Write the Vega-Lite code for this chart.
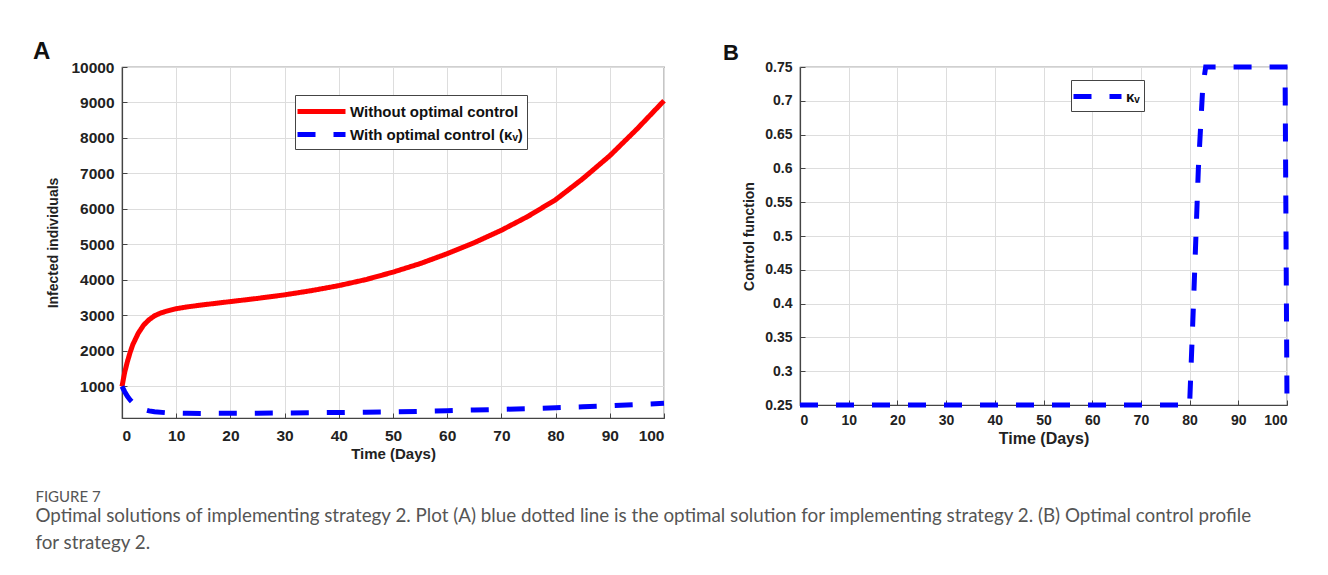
{
  "$schema": "https://vega.github.io/schema/vega-lite/v6.json",
  "background": "white",
  "padding": {"left": 32, "top": 39, "right": 10, "bottom": 5},
  "datasets": {
    "infected": [
      {"t": 0, "value": 1000, "series": "Without optimal control"},
      {"t": 0.5, "value": 1400, "series": "Without optimal control"},
      {"t": 1, "value": 1700, "series": "Without optimal control"},
      {"t": 1.5, "value": 1960, "series": "Without optimal control"},
      {"t": 2, "value": 2180, "series": "Without optimal control"},
      {"t": 3, "value": 2500, "series": "Without optimal control"},
      {"t": 4, "value": 2730, "series": "Without optimal control"},
      {"t": 5, "value": 2880, "series": "Without optimal control"},
      {"t": 6, "value": 2990, "series": "Without optimal control"},
      {"t": 7, "value": 3060, "series": "Without optimal control"},
      {"t": 8, "value": 3110, "series": "Without optimal control"},
      {"t": 10, "value": 3190, "series": "Without optimal control"},
      {"t": 12, "value": 3240, "series": "Without optimal control"},
      {"t": 15, "value": 3300, "series": "Without optimal control"},
      {"t": 20, "value": 3390, "series": "Without optimal control"},
      {"t": 25, "value": 3480, "series": "Without optimal control"},
      {"t": 30, "value": 3580, "series": "Without optimal control"},
      {"t": 35, "value": 3700, "series": "Without optimal control"},
      {"t": 40, "value": 3840, "series": "Without optimal control"},
      {"t": 45, "value": 4010, "series": "Without optimal control"},
      {"t": 50, "value": 4220, "series": "Without optimal control"},
      {"t": 55, "value": 4460, "series": "Without optimal control"},
      {"t": 60, "value": 4740, "series": "Without optimal control"},
      {"t": 65, "value": 5050, "series": "Without optimal control"},
      {"t": 70, "value": 5400, "series": "Without optimal control"},
      {"t": 75, "value": 5800, "series": "Without optimal control"},
      {"t": 80, "value": 6260, "series": "Without optimal control"},
      {"t": 85, "value": 6850, "series": "Without optimal control"},
      {"t": 90, "value": 7500, "series": "Without optimal control"},
      {"t": 95, "value": 8250, "series": "Without optimal control"},
      {"t": 100, "value": 9050, "series": "Without optimal control"},
      {"t": 0, "value": 1000, "series": "With optimal control (κᵥ)"},
      {"t": 0.5, "value": 850, "series": "With optimal control (κᵥ)"},
      {"t": 1, "value": 720, "series": "With optimal control (κᵥ)"},
      {"t": 1.5, "value": 620, "series": "With optimal control (κᵥ)"},
      {"t": 2, "value": 540, "series": "With optimal control (κᵥ)"},
      {"t": 3, "value": 420, "series": "With optimal control (κᵥ)"},
      {"t": 4, "value": 350, "series": "With optimal control (κᵥ)"},
      {"t": 5, "value": 310, "series": "With optimal control (κᵥ)"},
      {"t": 6, "value": 285, "series": "With optimal control (κᵥ)"},
      {"t": 8, "value": 260, "series": "With optimal control (κᵥ)"},
      {"t": 10, "value": 248, "series": "With optimal control (κᵥ)"},
      {"t": 12, "value": 242, "series": "With optimal control (κᵥ)"},
      {"t": 15, "value": 240, "series": "With optimal control (κᵥ)"},
      {"t": 20, "value": 242, "series": "With optimal control (κᵥ)"},
      {"t": 25, "value": 246, "series": "With optimal control (κᵥ)"},
      {"t": 30, "value": 252, "series": "With optimal control (κᵥ)"},
      {"t": 35, "value": 258, "series": "With optimal control (κᵥ)"},
      {"t": 40, "value": 265, "series": "With optimal control (κᵥ)"},
      {"t": 45, "value": 274, "series": "With optimal control (κᵥ)"},
      {"t": 50, "value": 285, "series": "With optimal control (κᵥ)"},
      {"t": 55, "value": 298, "series": "With optimal control (κᵥ)"},
      {"t": 60, "value": 315, "series": "With optimal control (κᵥ)"},
      {"t": 65, "value": 335, "series": "With optimal control (κᵥ)"},
      {"t": 70, "value": 355, "series": "With optimal control (κᵥ)"},
      {"t": 75, "value": 375, "series": "With optimal control (κᵥ)"},
      {"t": 80, "value": 400, "series": "With optimal control (κᵥ)"},
      {"t": 85, "value": 425, "series": "With optimal control (κᵥ)"},
      {"t": 90, "value": 455, "series": "With optimal control (κᵥ)"},
      {"t": 95, "value": 490, "series": "With optimal control (κᵥ)"},
      {"t": 100, "value": 525, "series": "With optimal control (κᵥ)"}
    ],
    "control": [
      {"t": 0, "value": 0.25, "series": "κᵥ"},
      {"t": 80, "value": 0.25, "series": "κᵥ"},
      {"t": 80.8, "value": 0.4, "series": "κᵥ"},
      {"t": 81.8, "value": 0.6, "series": "κᵥ"},
      {"t": 82.7, "value": 0.72, "series": "κᵥ"},
      {"t": 83.3, "value": 0.75, "series": "κᵥ"},
      {"t": 99.6, "value": 0.75, "series": "κᵥ"},
      {"t": 100, "value": 0.25, "series": "κᵥ"}
    ]
  },
  "title": {
    "text": "FIGURE 7",
    "subtitle": [
      "Optimal solutions of implementing strategy 2. Plot (A) blue dotted line is the optimal solution for implementing strategy 2. (B) Optimal control profile",
      "for strategy 2."
    ],
    "orient": "bottom",
    "anchor": "start",
    "frame": "bounds",
    "offset": 28,
    "dx": 3,
    "font": "Lato",
    "fontSize": 15,
    "fontWeight": "normal",
    "color": "#555555",
    "subtitleFont": "Lato",
    "subtitleFontSize": 18.8,
    "subtitleColor": "#555555",
    "subtitleLineHeight": 27,
    "subtitlePadding": 2
  },
  "spacing": 47,
  "hconcat": [
    {
      "width": 542,
      "height": 351,
      "title": {"text": "A", "anchor": "start", "frame": "group", "dx": -89, "fontSize": 24, "fontWeight": "bold", "font": "Liberation Sans", "color": "#111111", "offset": -4},
      "data": {"name": "infected"},
      "mark": {"type": "line", "strokeWidth": 5, "clip": false},
      "encoding": {
        "x": {"field": "t", "type": "quantitative", "scale": {"domain": [0, 100], "nice": false},
              "axis": {"title": "Time (Days)", "values": [0, 10, 20, 30, 40, 50, 60, 70, 80, 90, 100], "labelFontSize": 15.5, "labelPadding": 15, "titleFontSize": 15, "titlePadding": 3}},
        "y": {"field": "value", "type": "quantitative", "scale": {"domain": [110, 10000], "nice": false, "zero": false},
              "axis": {"title": "Infected individuals", "format": "d", "labelFontSize": 15.5, "values": [1000, 2000, 3000, 4000, 5000, 6000, 7000, 8000, 9000, 10000], "titlePadding": 10}},
        "color": {"field": "series", "type": "nominal",
                  "scale": {"domain": ["Without optimal control", "With optimal control (κᵥ)"], "range": ["#ff0000", "#0000ff"]},
                  "legend": {"title": null, "orient": "none", "legendX": 173, "legendY": 28, "labelFontSize": 15}},
        "strokeDash": {"field": "series", "type": "nominal",
                  "scale": {"domain": ["Without optimal control", "With optimal control (κᵥ)"], "range": [[1, 0], [18, 18]]},
                  "legend": {"title": null, "orient": "none", "legendX": 173, "legendY": 28, "labelFontSize": 15}}
      }
    },
    {
      "width": 487,
      "height": 338,
      "title": {"text": "B", "anchor": "start", "frame": "group", "dx": -77, "fontSize": 22, "fontWeight": "bold", "font": "Liberation Sans", "color": "#111111", "offset": -8},
      "data": {"name": "control"},
      "mark": {"type": "line", "strokeWidth": 5, "clip": false},
      "encoding": {
        "x": {"field": "t", "type": "quantitative", "scale": {"domain": [0, 100], "nice": false},
              "axis": {"title": "Time (Days)", "values": [0, 10, 20, 30, 40, 50, 60, 70, 80, 90, 100], "titleFontSize": 16, "titlePadding": 3}},
        "y": {"field": "value", "type": "quantitative", "scale": {"domain": [0.25, 0.75], "nice": false, "zero": false},
              "axis": {"title": "Control function", "format": ".2~f", "values": [0.25, 0.3, 0.35, 0.4, 0.45, 0.5, 0.55, 0.6, 0.65, 0.7, 0.75], "titlePadding": 8}},
        "color": {"field": "series", "type": "nominal",
                  "scale": {"domain": ["κᵥ"], "range": ["#0000ff"]},
                  "legend": {"title": null, "orient": "none", "legendX": 271, "legendY": 13, "labelFontSize": 15}},
        "strokeDash": {"field": "series", "type": "nominal",
                  "scale": {"domain": ["κᵥ"], "range": [[18, 18]]},
                  "legend": {"title": null, "orient": "none", "legendX": 271, "legendY": 13, "labelFontSize": 15}}
      }
    }
  ],
  "resolve": {"scale": {"color": "independent", "strokeDash": "independent"}, "legend": {"color": "independent", "strokeDash": "independent"}},
  "config": {
    "view": {"stroke": "#444444", "strokeWidth": 1.2},
    "axis": {
      "labelFont": "Liberation Sans", "labelFontWeight": "bold", "labelFontSize": 14, "labelColor": "#222222",
      "titleFont": "Liberation Sans", "titleFontWeight": "bold", "titleFontSize": 14, "titleColor": "#222222",
      "domainColor": "#444444", "domainWidth": 1.2, "tickColor": "#444444", "tickSize": -5, "labelPadding": 13,
      "grid": true, "gridColor": "#dddddd", "gridWidth": 1
    },
    "legend": {
      "symbolType": "M-2.4,0H2.4", "symbolSize": 400, "symbolStrokeWidth": 5, "symbolOffset": 10, "labelOffset": 16, "labelLimit": 400,
      "labelFont": "Liberation Sans", "labelFontWeight": "bold", "labelFontSize": 15, "labelColor": "#111111",
      "fillColor": "white", "strokeColor": "#444444", "padding": 4, "rowPadding": 0
    }
  }
}
